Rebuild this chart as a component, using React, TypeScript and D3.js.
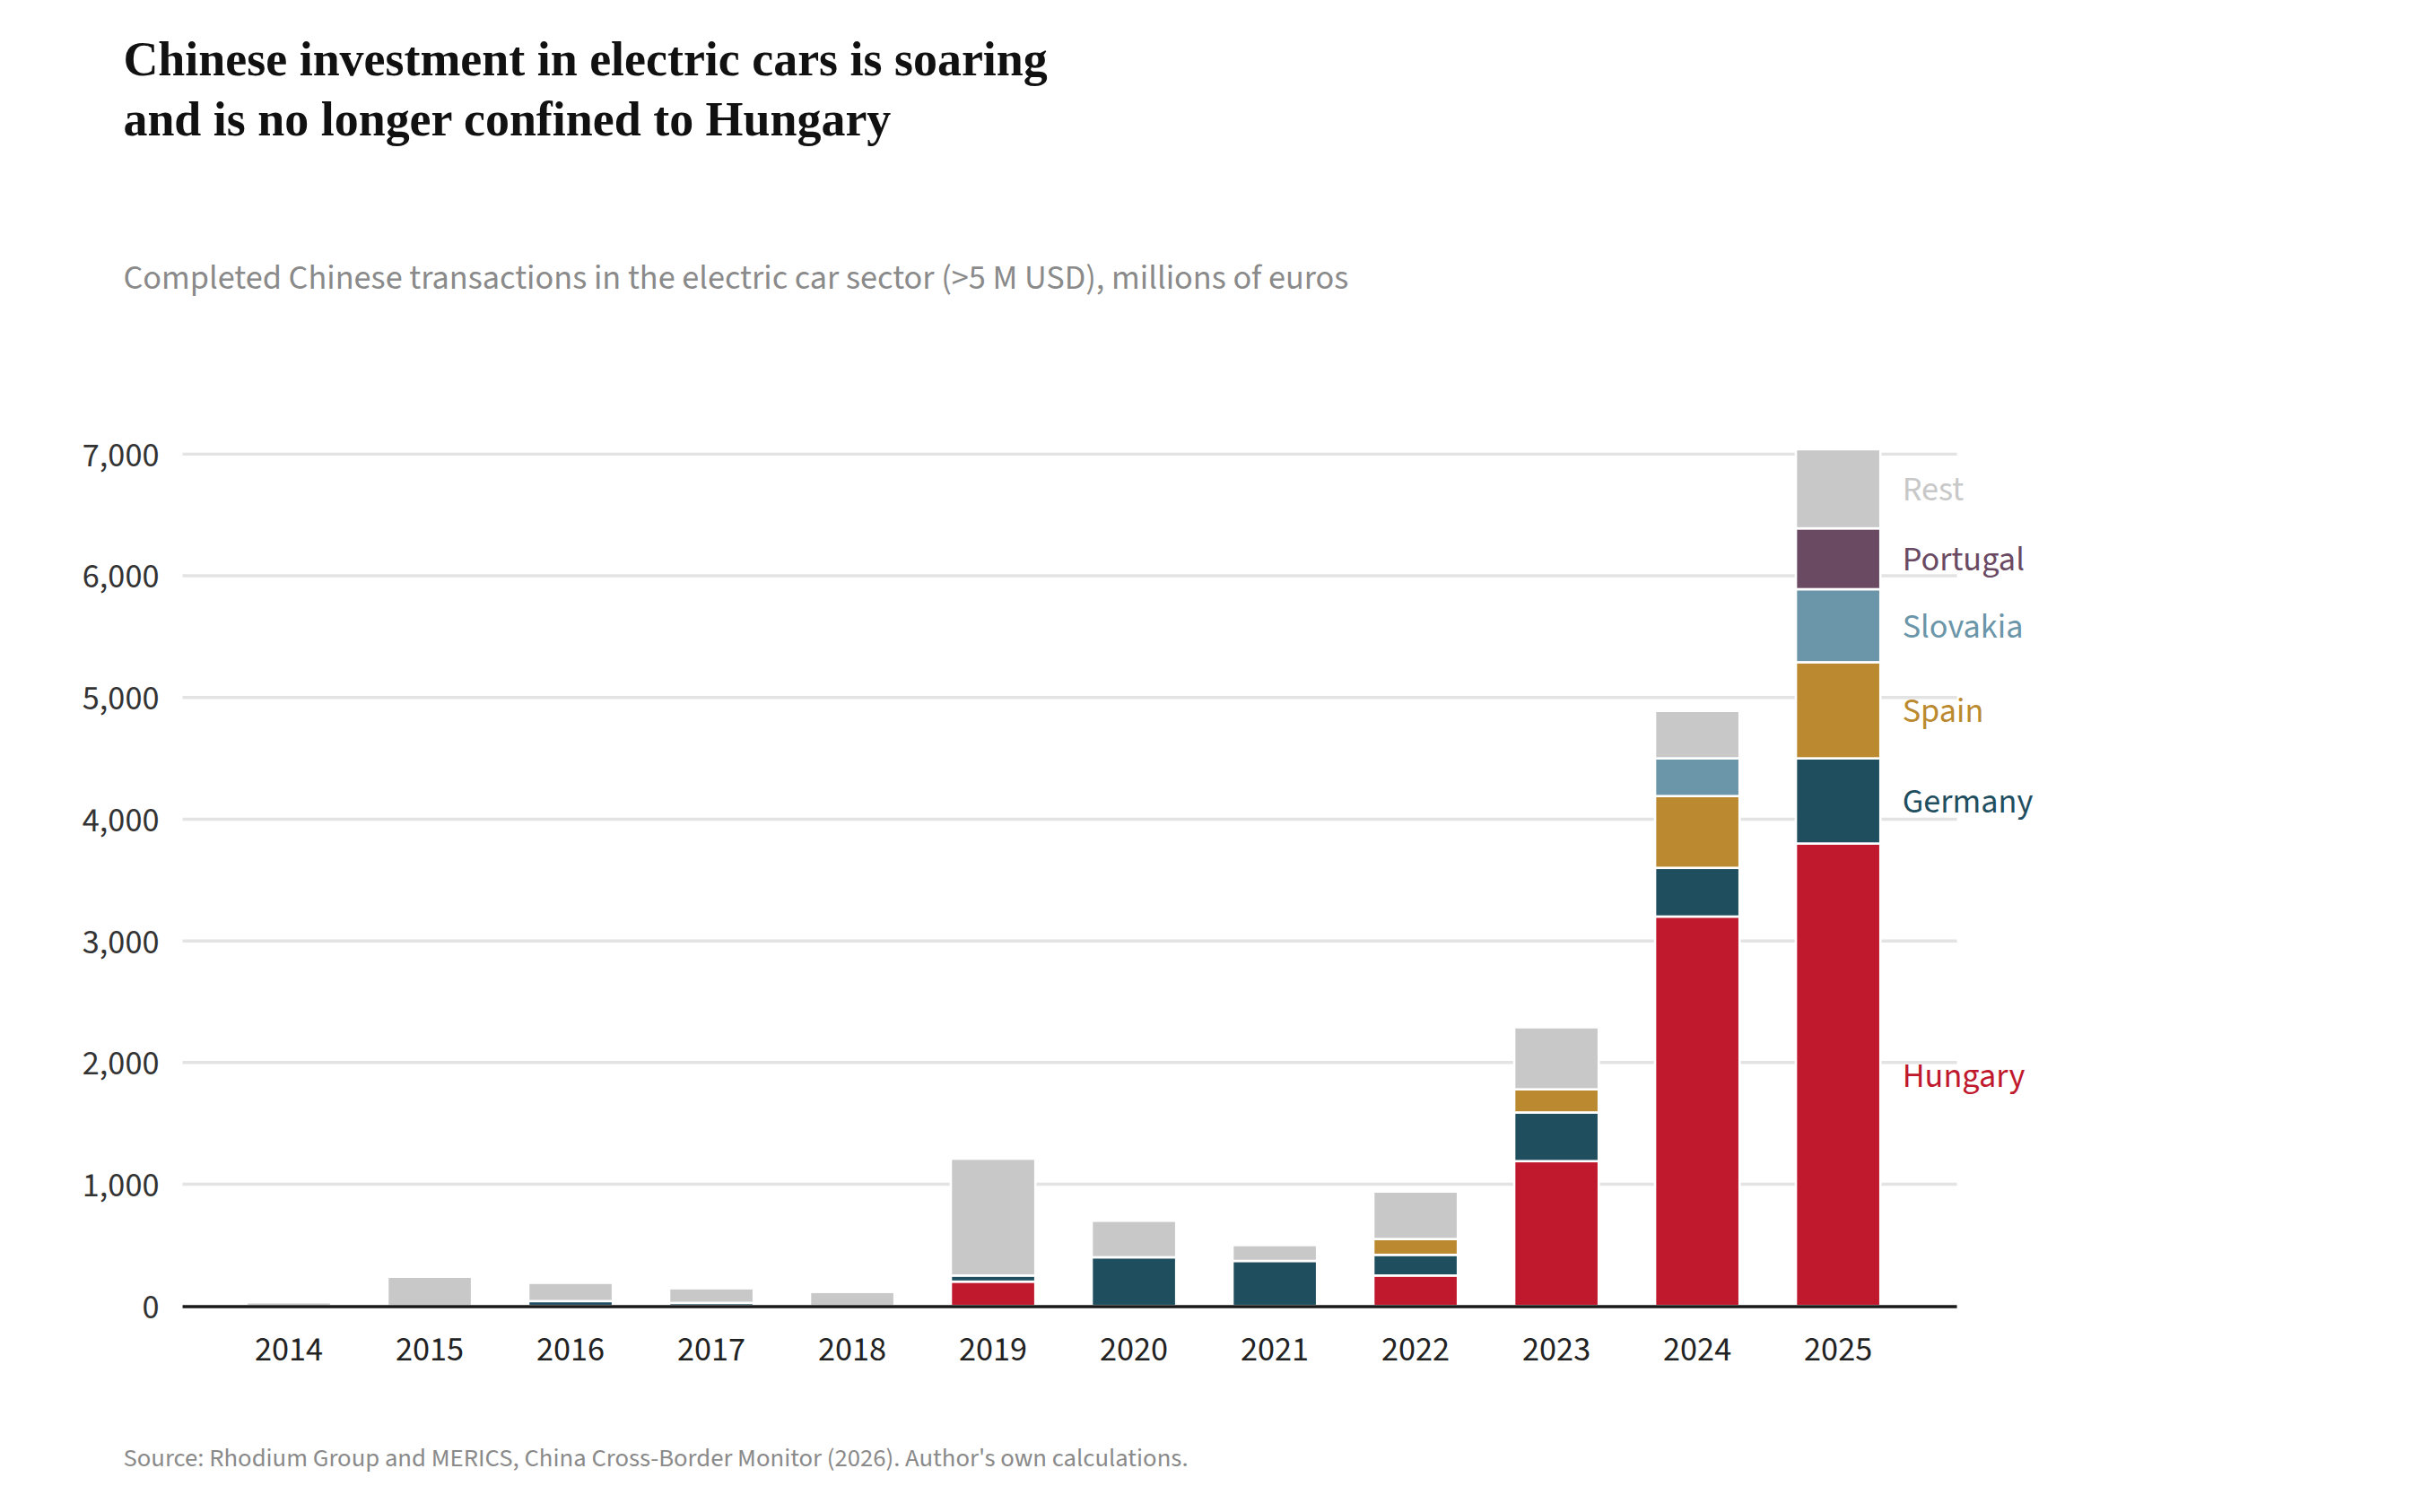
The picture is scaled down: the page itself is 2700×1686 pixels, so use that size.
import React from "react";
import * as d3 from "d3";

const years = ["2014","2015","2016","2017","2018","2019","2020","2021","2022","2023","2024","2025"];
const seriesKeys = ["Hungary","Germany","Spain","Slovakia","Portugal","Rest"];
const hungary =  [0,0,0,0,0,200,0,0,250,1190,3200,3800];
const germany =  [0,0,40,25,0,50,400,370,170,400,400,700];
const spain =    [0,0,0,0,0,0,0,0,130,190,590,790];
const slovakia = [0,0,0,0,0,0,0,0,0,0,310,600];
const portugal = [0,0,0,0,0,0,0,0,0,0,0,500];
const rest =     [30,240,150,120,115,960,300,130,390,510,390,650];
const colors: Record<string,string> = {Hungary:"#c0182c",Germany:"#1f4e5f",Spain:"#bb8a30",Slovakia:"#6b95a8",Portugal:"#6a4a63",Rest:"#c8c8c8"};
const yTicks = [0,1000,2000,3000,4000,5000,6000,7000];

export default function App() {
  const vals: Record<string, number[]> = {Hungary:hungary,Germany:germany,Spain:spain,Slovakia:slovakia,Portugal:portugal,Rest:rest};
  const rows = years.map((y, i) => { const r: any = { year: y }; seriesKeys.forEach(k => r[k] = vals[k][i]); return r; });
  const stacked = d3.stack().keys(seriesKeys)(rows);
  const x = d3.scaleBand().domain(years).range([140, 1223]).paddingInner(0.4).paddingOuter(0.2);
  const y = d3.scaleLinear().domain([0, 7000]).range([837, 291]);
  const sans = "'Source Sans 3','Noto Sans',sans-serif";
  const last = years.length - 1;
  return (
    <svg width={2700} height={1686} viewBox="0 0 1552 969" style={{position:"absolute",left:0,top:0,background:"#fff"}}>
      <text x={79} y={48} fontFamily="'Liberation Serif',serif" fontWeight="bold" fontSize={31} fill="#111">Chinese investment in electric cars is soaring</text>
      <text x={79} y={87} fontFamily="'Liberation Serif',serif" fontWeight="bold" fontSize={31} fill="#111">and is no longer confined to Hungary</text>
      <text x={79} y={185} fontFamily={sans} fontSize={22} fill="#8a8a8a">Completed Chinese transactions in the electric car sector (&gt;5 M USD), millions of euros</text>
      {yTicks.map(t => (
        <g key={t}>
          {t > 0 && <line x1={117} x2={1254} y1={y(t)} y2={y(t)} stroke="#e3e3e3" strokeWidth={2} />}
          <text x={102} y={y(t)} dy="0.35em" textAnchor="end" fontFamily={sans} fontSize={22} fill="#333">{d3.format(",")(t)}</text>
        </g>
      ))}
      {stacked.map(s => (
        <g key={s.key}>
          {s.map((d, i) => d[1] - d[0] > 0 ? (
            <rect key={i} x={x(years[i])} width={x.bandwidth()} y={y(d[1])} height={y(d[0]) - y(d[1])} fill={colors[s.key]} stroke="#fff" strokeWidth={1.5} />
          ) : null)}
        </g>
      ))}
      <line x1={117} x2={1254} y1={837.5} y2={837.5} stroke="#1a1a1a" strokeWidth={2} />
      {years.map(yr => (
        <text key={yr} x={(x(yr) as number) + x.bandwidth() / 2} y={872} textAnchor="middle" fontFamily={sans} fontSize={22} fill="#222">{yr}</text>
      ))}
      {stacked.map(s => (
        <text key={s.key} x={1219} y={y((s[last][0] + s[last][1]) / 2)} dy="0.35em" fontFamily={sans} fontSize={22} fill={colors[s.key]}>{s.key}</text>
      ))}
      <text x={79} y={940} fontFamily={sans} fontSize={16.5} fill="#8a8a8a">Source: Rhodium Group and MERICS, China Cross-Border Monitor (2026). Author's own calculations.</text>
    </svg>
  );
}
